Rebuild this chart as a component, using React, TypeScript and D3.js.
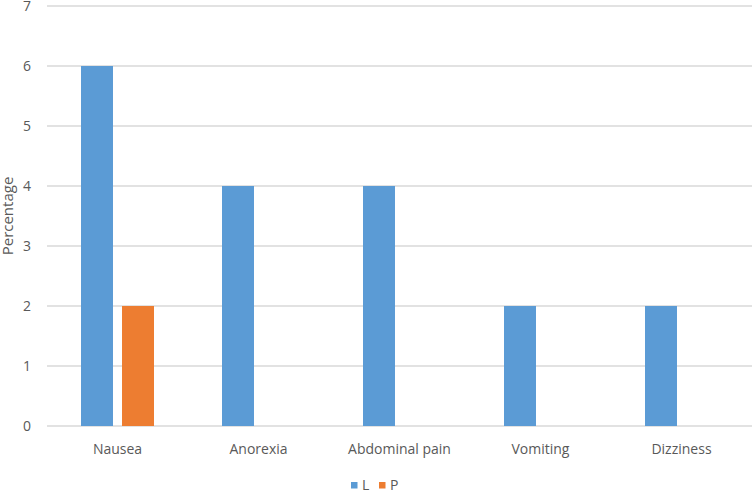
import * as d3 from "d3";

const categories = ["Nausea", "Anorexia", "Abdominal pain", "Vomiting", "Dizziness"];
const seriesNames = ["L", "P"];
const valuesL = [6, 4, 4, 2, 2];
const valuesP = [2, 0, 0, 0, 0];
const yTicks = [0, 1, 2, 3, 4, 5, 6, 7];

const WIDTH = 754;
const HEIGHT = 491;
const PLOT = { left: 47, right: 752, top: 6, bottom: 426 };
const COLORS: Record<string, string> = { L: "#5B9BD5", P: "#ED7D31" };
const FONT = "'Open Sans', 'Noto Sans', sans-serif";
const TEXT_COLOR = "#595959";

export default function App() {
  const x = d3.scaleBand<string>().domain(categories).range([PLOT.left, PLOT.right]);
  const inner = d3
    .scaleBand<string>()
    .domain(seriesNames)
    .range([(x.bandwidth() - 73) / 2, (x.bandwidth() + 73) / 2])
    .paddingInner(0.22);
  const y = d3.scaleLinear().domain([0, 7]).range([PLOT.bottom, PLOT.top]);

  const rows = categories.map((c, i) => ({ category: c, L: valuesL[i], P: valuesP[i] }));

  return (
    <svg
      width={WIDTH}
      height={HEIGHT}
      style={{ position: "absolute", left: 0, top: 0, background: "#fff" }}
      fontFamily={FONT}
    >
      {yTicks.map((t) => (
        <g key={t}>
          <line x1={PLOT.left} x2={PLOT.right} y1={y(t)} y2={y(t)} stroke="#D9D9D9" strokeWidth={1.3} />
          <text x={31} y={y(t)} dy="0.35em" textAnchor="end" fontSize={14} fill={TEXT_COLOR}>
            {t}
          </text>
        </g>
      ))}
      {rows.map((r) => (
        <g key={r.category} transform={`translate(${x(r.category)},0)`}>
          {seriesNames.map((s) => {
            const v = (r as any)[s] as number;
            if (!v) return null;
            return (
              <rect
                key={s}
                x={inner(s)}
                y={y(v)}
                width={inner.bandwidth()}
                height={y(0) - y(v)}
                fill={COLORS[s]}
              />
            );
          })}
          <text
            x={x.bandwidth() / 2}
            y={454}
            textAnchor="middle"
            fontSize={14}
            fill={TEXT_COLOR}
          >
            {r.category}
          </text>
        </g>
      ))}
      <text
        transform={`translate(13,216) rotate(-90)`}
        textAnchor="middle"
        fontSize={15}
        fill={TEXT_COLOR}
      >
        Percentage
      </text>
      {seriesNames.map((s, i) => (
        <g key={s} transform={`translate(${351 + i * 28},482)`}>
          <rect width={6.5} height={6.5} fill={COLORS[s]} />
          <text x={11} y={3.5} dy="0.35em" fontSize={14} fill={TEXT_COLOR}>
            {s}
          </text>
        </g>
      ))}
    </svg>
  );
}
